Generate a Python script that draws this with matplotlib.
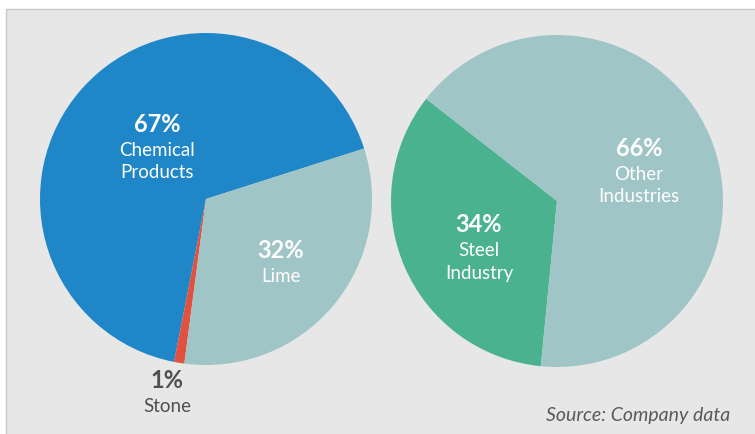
import matplotlib.pyplot as plt
from matplotlib.patches import Rectangle

# data
left_labels = ['Chemical\nProducts', 'Stone', 'Lime']
left_values = [67, 1, 32]
left_colors = ['#1f86c8', '#e0523f', '#a0c5c6']

right_labels = ['Steel\nIndustry', 'Other\nIndustries']
right_values = [34, 66]
right_colors = ['#4ab28f', '#a0c5c6']

W, H = 755, 434
fig = plt.figure(figsize=(W / 100, H / 100), dpi=100)
fig.patch.set_facecolor('white')
ax = fig.add_axes([0, 0, 1, 1])
ax.set_xlim(0, W)
ax.set_ylim(0, H)
ax.set_aspect('equal')
ax.axis('off')

# grey panel
ax.add_patch(Rectangle((6, -5), W, H - 9 + 5, facecolor='#e7e7e7',
                       edgecolor='#c8c8c8', lw=1, zorder=0))

FONT = ['Lato', 'DejaVu Sans']

ax.pie(left_values, colors=left_colors, startangle=17.7, counterclock=True,
       center=(206, H - 199), radius=166, wedgeprops=dict(linewidth=0))
ax.pie(right_values, colors=right_colors, startangle=142, counterclock=True,
       center=(557, H - 201), radius=166, wedgeprops=dict(linewidth=0))
ax.set_xlim(0, W)
ax.set_ylim(0, H)


def label(x, y, pct, name, color):
    ax.text(x, H - y, f'{pct}%', ha='center', va='center', fontsize=17,
            fontweight='bold', color=color, family=FONT)
    for i, line in enumerate(name.split('\n')):
        ax.text(x, H - (y + 26 + 23 * i), line, ha='center', va='center',
                fontsize=13.5, color=color, family=FONT)


label(157, 124, left_values[0], left_labels[0], 'white')
label(281, 250, left_values[2], left_labels[2], 'white')
label(167, 380, left_values[1], left_labels[1], '#505050')
label(639, 148, right_values[1], right_labels[1], 'white')
label(479, 225, right_values[0], right_labels[0], 'white')

ax.text(730, H - 416, 'Source: Company data', ha='right', va='center',
        fontsize=14, style='italic', color='#5a5a5a', family=FONT)

fig.savefig('out.png', dpi=100, facecolor='white')
